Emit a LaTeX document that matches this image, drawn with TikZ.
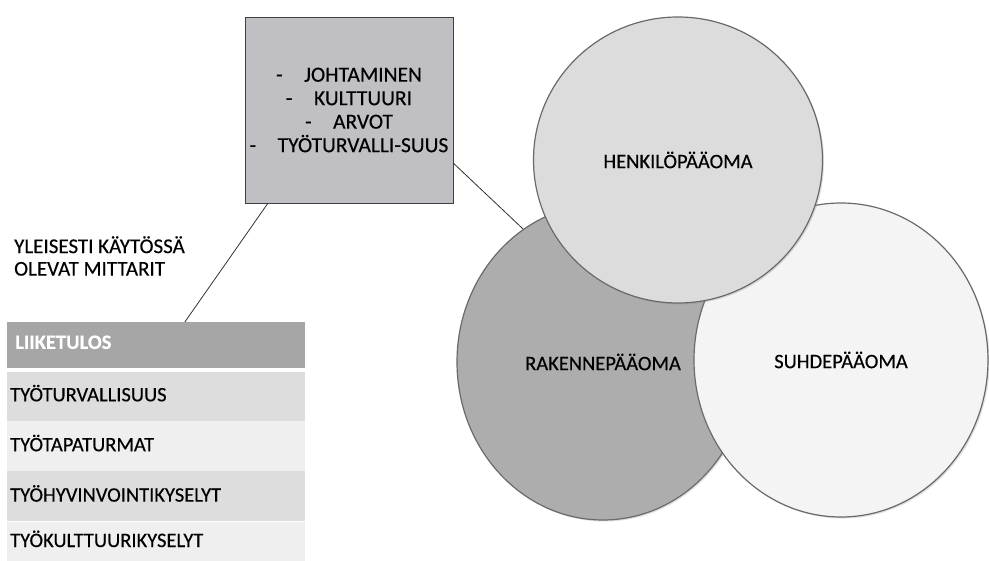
\documentclass[tikz,border=0pt]{standalone}
\usepackage{fontspec}
\setmainfont{Carlito}[FakeBold=0.35]
\usetikzlibrary{positioning,shapes.geometric,shadows}

\definecolor{boxgray}{HTML}{C0C0C4}
\definecolor{headgray}{HTML}{A6A6A6}
\definecolor{rowdark}{HTML}{DDDDDD}
\definecolor{rowlight}{HTML}{EFEFEF}
\definecolor{henkgray}{HTML}{DCDCDC}
\definecolor{rakgray}{HTML}{ADADAD}
\definecolor{suhdegray}{HTML}{F4F4F4}
\definecolor{rimgray}{HTML}{6A6A6A}

\tikzset{
  pool/.style={ellipse, draw=rimgray, line width=1.2pt, inner sep=0pt,
    font=\fontsize{20.5}{24}\selectfont,
    drop shadow={opacity=0.25, shadow xshift=1.5pt, shadow yshift=-1.5pt}},
  cell/.style={rectangle, anchor=north west, inner xsep=3pt, inner ysep=0pt,
    text width=292pt, align=left, minimum height=50pt, text depth=6pt},
  headcell/.style={cell, fill=headgray, text=white, font=\fontsize{20.5}{24}\selectfont\bfseries,
    inner xsep=8pt, text width=282pt, minimum height=46pt},
  link/.style={line width=0.8pt, black!80}
}

\begin{document}
\begin{tikzpicture}[x=1pt, y=1pt, font=\fontsize{20.5}{24}\selectfont]

\useasboundingbox[fill=white] (0,0) rectangle (989,-561) ;

% the three capitals
\node[pool, fill=rakgray, minimum width=292pt, minimum height=316pt] (rak) at (603,-362) {RAKENNEPÄÄOMA} ;
\node[pool, fill=suhdegray, minimum width=294pt, minimum height=314pt] (suhde) at (841,-360) {SUHDEPÄÄOMA} ;
\node[pool, fill=henkgray, minimum width=289pt, minimum height=286pt] (henk) at (678,-160) {HENKILÖPÄÄOMA} ;

% management box
\node[draw=black!75, line width=0.8pt, fill=boxgray, minimum width=208pt, minimum height=186pt,
  align=center, font=\fontsize{21.5}{23.5}\selectfont] (mgmt) at (349,-110)
  {-\quad JOHTAMINEN\\ -\quad KULTTUURI\\ -\quad ARVOT\\ -\quad TYÖTURVALLI-SUUS} ;

% measures
\node[align=left, anchor=west, inner sep=0pt, font=\fontsize{21}{22.5}\selectfont] (title) at (14,-256) {YLEISESTI KÄYTÖSSÄ\\OLEVAT MITTARIT} ;

\node[headcell] (head) at (7,-322) {LIIKETULOS} ;
\node[cell, fill=rowdark, minimum height=49pt, below=3pt of head.south west, anchor=north west] (row1) {TYÖTURVALLISUUS} ;
\node[cell, fill=rowlight, below=0pt of row1.south west, anchor=north west] (row2) {TYÖTAPATURMAT} ;
\node[cell, fill=rowdark, below=0pt of row2.south west, anchor=north west] (row3) {TYÖHYVINVOINTIKYSELYT} ;
\node[cell, fill=rowlight, minimum height=40pt, below=0pt of row3.south west, anchor=north west] (row4) {TYÖKULTTUURIKYSELYT} ;

\draw[link] (mgmt.229.6) -- (head.39.4) ;
\draw[link] (mgmt.-27) -- (rak.121) ;

\end{tikzpicture}
\end{document}
